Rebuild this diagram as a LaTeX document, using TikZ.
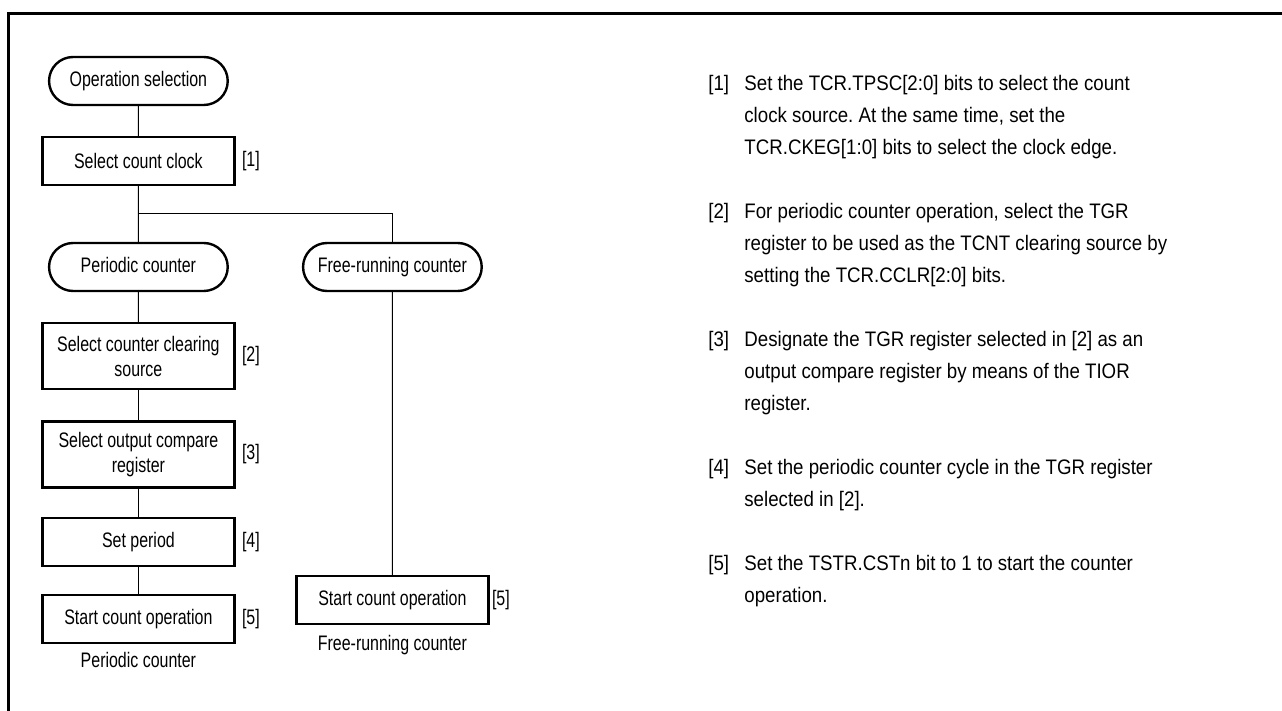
\documentclass[tikz,border=0pt]{standalone}
\usepackage{fontspec}
\setmainfont{Liberation Sans}
\newfontfamily\chartfont[FakeStretch=0.76]{Liberation Sans}
\newfontfamily\notefont[FakeStretch=0.89]{Liberation Sans}
\usetikzlibrary{positioning, shapes.misc}
\frenchspacing

\begin{document}
\begin{tikzpicture}[auto,
    every node/.style={font=\chartfont\fontsize{10.5}{12.5}\selectfont},
    proc/.style={draw, rectangle, line width=1.2pt, minimum width=96pt, minimum height=24pt, align=center, inner sep=2pt},
    term/.style={draw, rounded rectangle, line width=1.2pt, minimum width=96pt, minimum height=24pt, text height=7.7pt, text depth=2.3pt},
    tag/.style={inner sep=0pt},
    flow/.style={line width=0.5pt},
    notetag/.style={anchor=base west, inner sep=0pt, font=\notefont\fontsize{10.5}{16}\selectfont},
    note/.style={anchor=north west, xshift=18pt, inner sep=0pt, align=left, font=\notefont\fontsize{10.5}{16}\selectfont}]
    \useasboundingbox (0,0) rectangle (641pt,-355.5pt);
    \draw [line width=1.7pt] (4.2pt,-355.5pt) |- (641pt,-6.85pt);

    \node [term] (opsel) at (69.2pt,-40.5pt) {Operation selection};
    \node [proc, below of=opsel, node distance=40pt] (clk) {Select count clock};
    \coordinate [below of=clk, node distance=26.2pt] (split);
    \node [term, below of=clk, node distance=53pt] (per) {Periodic counter};
    \node [term, right of=per, node distance=127pt] (free) {Free-running counter};
    \node [proc, minimum height=33pt, below of=per, node distance=44.5pt] (clr) {Select counter clearing\\source};
    \node [proc, minimum height=33pt, below of=clr, node distance=49.2pt] (cmp) {Select output compare\\register};
    \node [proc, below of=cmp, node distance=43.8pt] (prd) {Set period};
    \node [proc, below of=prd, node distance=38.5pt] (start) {Start count operation};
    \node [proc, below of=free, node distance=166.5pt] (fstart) {Start count operation};
    \node [below of=start, node distance=20.5pt] (cap1) {Periodic counter};
    \node [below of=fstart, node distance=22.5pt] (cap2) {Free-running counter};

    \node [tag, right=3pt of clk] (s1) {[1]};
    \node [tag, right=3pt of clr] (s2) {[2]};
    \node [tag, right=3pt of cmp] (s3) {[3]};
    \node [tag, right=3pt of prd] (s4) {[4]};
    \node [tag, right=3pt of start] (s5) {[5]};
    \node [tag, right=1pt of fstart] (fs5) {[5]};

    \draw [flow] (opsel) -- (clk);
    \draw [flow] (clk) -- (per);
    \draw [flow] (split) -| (free);
    \draw [flow] (per) -- (clr);
    \draw [flow] (clr) -- (cmp);
    \draw [flow] (cmp) -- (prd);
    \draw [flow] (prd) -- (start);
    \draw [flow] (free) -- (fstart);

    % notes
    \node [notetag] (t1) at (354pt,-45.3pt) {[1]};
    \node [note] (n1) at (t1.north west) {Set the TCR.TPSC[2:0] bits to select the count\\clock source. At the same time, set the\\TCR.CKEG[1:0] bits to select the clock edge.};
    \node [notetag] (t2) at (354pt,-109.3pt) {[2]};
    \node [note] (n2) at (t2.north west) {For periodic counter operation, select the TGR\\register to be used as the TCNT clearing source by\\setting the TCR.CCLR[2:0] bits.};
    \node [notetag] (t3) at (354pt,-173.3pt) {[3]};
    \node [note] (n3) at (t3.north west) {Designate the TGR register selected in [2] as an\\output compare register by means of the TIOR\\register.};
    \node [notetag] (t4) at (354pt,-237.3pt) {[4]};
    \node [note] (n4) at (t4.north west) {Set the periodic counter cycle in the TGR register\\selected in [2].};
    \node [notetag] (t5) at (354pt,-285.3pt) {[5]};
    \node [note] (n5) at (t5.north west) {Set the TSTR.CSTn bit to 1 to start the counter\\operation.};
\end{tikzpicture}
\end{document}
